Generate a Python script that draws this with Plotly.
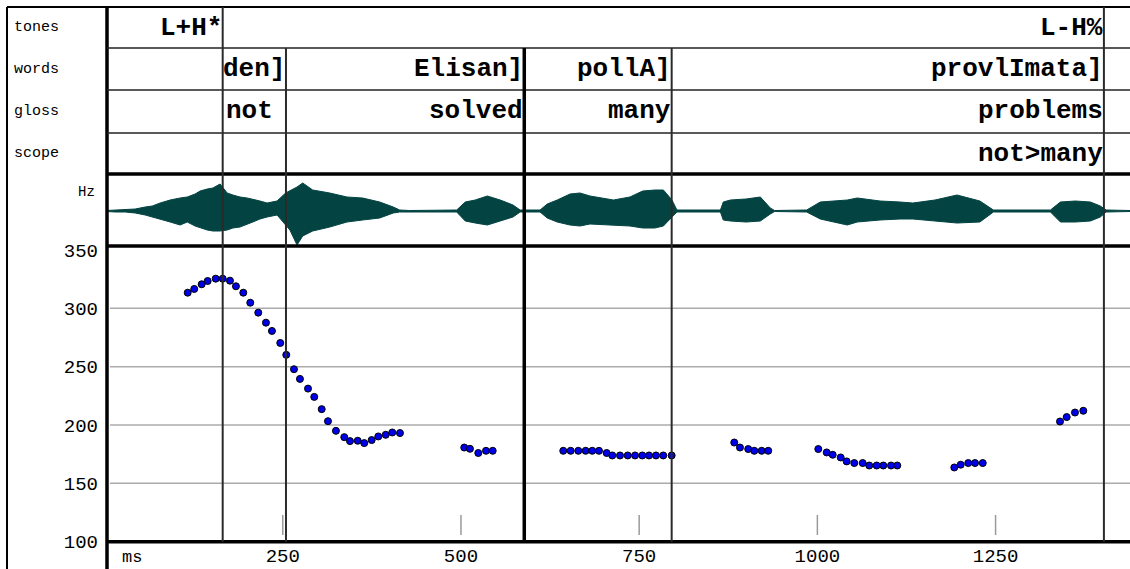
import plotly.graph_objects as go

W, H = 1130, 569

# ---------------- data ----------------
pitch_ms = [116.6, 125.8, 136.2, 144.6, 155.9, 165.7, 175.9, 184.3, 194.6, 204.4, 215.6, 226.4, 234.8, 246.5,
            254.9, 265.7, 274.1, 285.4, 294.2, 304.6, 313.4, 324.6, 336.3, 344.3, 355.1, 364.3, 374.7, 384.0,
            394.4, 403.6, 414.4,
            504.6, 512.6, 524.3, 535.1, 544.5,
            643.5, 653.9, 664.6, 674.9, 684.2, 693.6, 704.4, 712.3, 723.1, 733.9, 744.2, 754.4, 763.8, 773.6,
            783.8, 795.6,
            883.4, 891.4, 903.0, 911.5, 921.8, 931.1,
            1001.3, 1013.1, 1021.5, 1032.7, 1041.1, 1051.8, 1063.6, 1072.8, 1083.2, 1092.5, 1103.3, 1112.1,
            1192.1, 1201.1, 1211.7, 1221.2, 1232.0,
            1340.4, 1349.8, 1361.4, 1373.1]
pitch_hz = [313.4, 316.6, 320.6, 323.4, 325.4, 325.4, 323.7, 318.9, 313.4, 304.8, 296.3, 287.7, 280.6, 270.3,
            260.1, 247.8, 239.5, 231.2, 224.1, 213.6, 203.3, 195.0, 189.6, 186.2, 186.5, 184.5, 187.1, 190.2,
            191.6, 193.6, 193.1,
            180.7, 179.6, 176.0, 177.9, 177.9,
            177.9, 177.9, 177.9, 177.9, 177.9, 177.9, 176.0, 173.9, 173.9, 173.9, 173.9, 173.9, 173.9, 173.9,
            173.9, 173.9,
            185.0, 180.7, 179.4, 177.9, 177.9, 177.9,
            179.4, 176.5, 174.5, 172.2, 168.8, 167.4, 167.4, 165.3, 165.3, 165.3, 165.3, 165.3,
            163.6, 166.0, 167.4, 167.4, 167.4,
            203.0, 206.8, 210.7, 212.2]

# waveform envelope (time in ms, upper / lower amplitude, arbitrary units)
wave_ms = [3, 15, 29, 43, 57, 67, 78, 92, 106, 116, 127, 134, 144, 152, 162, 172, 180, 190, 200, 208,
           218, 228, 242, 254, 260, 270, 278, 292, 316, 340, 362, 386, 405, 414, 428, 494, 506, 520, 537, 555,
           573, 583, 597, 611, 621, 635, 653, 667, 681, 700, 714, 737, 755, 772, 784, 796, 803, 864, 868, 878,
           900, 920, 934, 940, 985, 1004, 1042, 1056, 1088, 1116, 1134, 1165, 1196, 1228, 1247, 1327, 1341,
           1362, 1383, 1397, 1405, 1439]
wave_up = [0.5, 1, 1.5, 2, 4, 5, 8, 11, 13, 14, 17, 20, 22, 23, 27, 18, 16, 14, 13, 12,
           10, 8, 10, 18, 20, 24, 28, 21, 18, 14, 13, 9, 4, 1, 0.5, 1, 9, 11, 15, 11,
           6, 1, 1, 1, 7, 11, 17, 18, 15, 13, 11, 14, 20, 21, 21, 11, 1, 1, 9, 11,
           12, 14, 3, 0.5, 1, 9, 11, 13, 10, 9, 8, 11, 16, 10, 1, 1, 9, 10, 9, 5, 1, 0.5]
wave_low = [-0.5, -1, -1, -2, -4, -6, -8, -11, -14, -11, -15, -17, -19, -20, -20, -19, -17, -16, -13, -11,
            -8, -6, -4, -14, -19, -34, -25, -20, -16, -11, -9, -7, -2, -1, -0.5, -1, -10, -12, -14, -10,
            -6, -1, -1, -1, -7, -11, -14, -15, -13, -14, -14, -15, -17, -17, -15, -6, -1, -1, -9, -10,
            -11, -10, -3, -0.5, -1, -8, -14, -11, -9, -8, -8, -10, -12, -11, -1, -1, -11, -11, -10, -6, -1, -0.5]

tier_names = ["tones", "words", "gloss", "scope"]
boundaries_ms = [165.7, 254.5, 588.8, 795.6, 1402.0]
tones = ["L+H*", "L-H%"]
tones_end_ms = [165.7, 1402.0]
words = ["den]", "Elisan]", "pollA]", "provlImata]"]
words_end_ms = [254.5, 588.8, 795.6, 1402.0]
gloss = ["not", "solved", "many", "problems"]
gloss_ms = [165.7, 588.8, 795.6, 1402.0]
scope = ["not>many"]
scope_end_ms = [1402.0]

x_ticks = [250, 500, 750, 1000, 1250]
y_ticks = [100, 150, 200, 250, 300, 350]
grid_hz = [150, 200, 250, 300]

# ---------------- layout geometry (pixels) ----------------
LEFT, TOP, COL = 7, 7, 107
ROWS = [7, 48, 90, 133, 174]      # tier row edges
WAVE_TOP, WAVE_BOT = 174, 246
AXIS_Y = 541.7
X_RANGE = [3.4, 1438.6]
Y_RANGE = [100, 353.4]


def px(x):
    return x / W


def py(y):
    return 1 - y / H


MONO = "Liberation Mono"
TEAL = "#034443"

fig = go.Figure()

fig.add_trace(go.Scatter(
    x=wave_ms + wave_ms[::-1], y=wave_up + wave_low[::-1],
    fill="toself", fillcolor=TEAL, mode="lines",
    line=dict(color=TEAL, width=1), xaxis="x", yaxis="y2",
    hoverinfo="skip", showlegend=False))

fig.add_trace(go.Scatter(
    x=pitch_ms, y=pitch_hz, mode="markers",
    marker=dict(size=7, color="#0000e8", line=dict(color="black", width=1)),
    xaxis="x", yaxis="y", showlegend=False))

shapes = []
# grid
for g in grid_hz:
    shapes.append(dict(type="line", xref="paper", yref="y", x0=px(COL + 3), x1=1, y0=g, y1=g,
                       line=dict(color="#ababab", width=1.5), layer="below"))
# x tick marks (inside, short)
for t in x_ticks:
    shapes.append(dict(type="line", xref="x", yref="paper", x0=t, x1=t, y0=py(535), y1=py(515),
                       line=dict(color="#9a9a9a", width=1.5)))
# outer frame
shapes.append(dict(type="line", xref="paper", yref="paper", x0=px(LEFT), x1=px(LEFT), y0=0, y1=py(TOP),
                   line=dict(color="black", width=2)))
shapes.append(dict(type="line", xref="paper", yref="paper", x0=px(LEFT), x1=1, y0=py(TOP), y1=py(TOP),
                   line=dict(color="black", width=2)))
shapes.append(dict(type="line", xref="paper", yref="paper", x0=px(COL), x1=px(COL), y0=0, y1=py(TOP),
                   line=dict(color="black", width=3.5)))
for r in ROWS[1:4]:
    shapes.append(dict(type="line", xref="paper", yref="paper", x0=px(COL), x1=1, y0=py(r), y1=py(r),
                       line=dict(color="#222", width=1.5)))
for r in [WAVE_TOP, WAVE_BOT, AXIS_Y]:
    shapes.append(dict(type="line", xref="paper", yref="paper", x0=px(COL), x1=1, y0=py(r), y1=py(r),
                       line=dict(color="black", width=3.5)))
# boundaries
for b in boundaries_ms:
    top = TOP if b in tones_end_ms else ROWS[1]
    w = 3.5 if b == 588.8 else 2
    col = "black" if b == 588.8 else "#2a2a2a"
    shapes.append(dict(type="line", xref="x", yref="paper", x0=b, x1=b, y0=py(AXIS_Y), y1=py(top),
                       line=dict(color=col, width=w)))

ann = []
row_c = [(ROWS[i] + ROWS[i + 1]) / 2 for i in range(4)]
for name, yc in zip(tier_names, row_c):
    ann.append(dict(text=name, xref="paper", yref="paper", x=px(12), y=py(yc), xanchor="left",
                    yanchor="middle", showarrow=False, font=dict(family=MONO, size=15, color="black")))
ann.append(dict(text="Hz", xref="paper", yref="paper", x=px(97), y=py(192), xanchor="right",
                yanchor="middle", showarrow=False, font=dict(family=MONO, size=14, color="black")))
ann.append(dict(text="ms", xref="paper", yref="paper", x=px(120), y=py(557), xanchor="left",
                yanchor="middle", showarrow=False, font=dict(family=MONO, size=17, color="black")))

tf = dict(family=MONO, size=26, color="black", weight="bold")


def tier_text(labels, xs, yc, anchor="right"):
    for t, x in zip(labels, xs):
        ann.append(dict(text=t, xref="x", yref="paper", x=x, y=py(yc), xanchor=anchor, yanchor="middle",
                        xshift=(1 if anchor == "right" else 1), showarrow=False, font=tf))


tier_text(tones, tones_end_ms, row_c[0])
tier_text(words, words_end_ms, row_c[1])
tier_text(gloss[:1], gloss_ms[:1], row_c[2], anchor="left")
tier_text(gloss[1:], gloss_ms[1:], row_c[2])
tier_text(scope, scope_end_ms, row_c[3])

fig.update_layout(
    template="none",
    width=W, height=H, margin=dict(l=0, r=0, t=0, b=0, pad=0), autosize=False,
    paper_bgcolor="white", plot_bgcolor="white",
    xaxis=dict(domain=[px(COL), 1], range=X_RANGE, tickvals=x_ticks, ticks="", showgrid=False,
               zeroline=False, showline=False, automargin=False,
               tickfont=dict(family=MONO, size=19, color="black"), anchor="y"),
    yaxis=dict(domain=[py(AXIS_Y), py(WAVE_BOT)], range=Y_RANGE, tickvals=y_ticks, ticks="",
               showgrid=False, zeroline=False, showline=False, automargin=False,
               tickfont=dict(family=MONO, size=19, color="black"), ticklabelstandoff=8, anchor="x"),
    yaxis2=dict(domain=[py(WAVE_BOT), py(WAVE_TOP)], range=[-35, 37], visible=False, anchor="x",
                automargin=False),
    shapes=shapes, annotations=ann, showlegend=False,
)

fig.write_html("out.html", config={"displayModeBar": False},
               post_script="document.body.style.margin='0';document.body.style.overflow='hidden';")
